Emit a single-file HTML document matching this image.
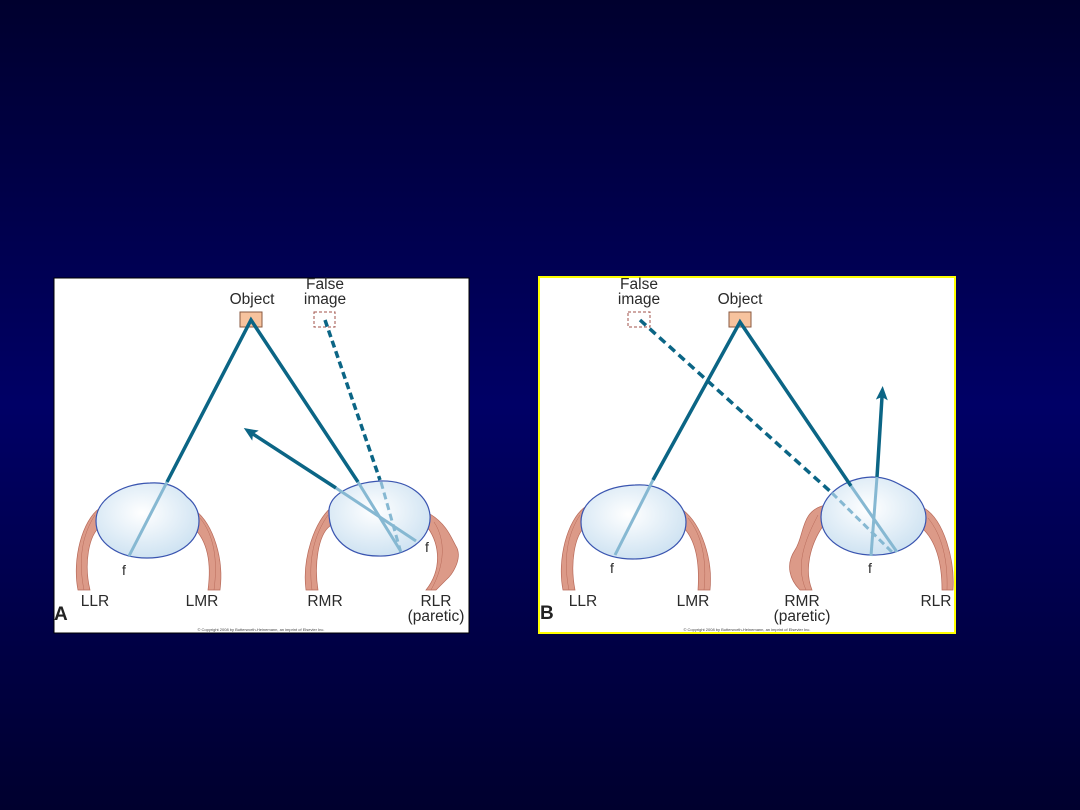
<!DOCTYPE html>
<html><head><style>
html,body{margin:0;padding:0;}
body{width:1080px;height:810px;overflow:hidden;background:linear-gradient(180deg,#00002e 0%,#00004a 25%,#000066 50%,#00004a 75%,#00002e 100%);font-family:"Liberation Sans",sans-serif;}
svg{position:absolute;left:0;top:0;}
</style></head><body>
<svg width="1080" height="810" viewBox="0 0 1080 810" font-family="Liberation Sans, sans-serif">
<defs>
<radialGradient id="eg" cx="0.45" cy="0.4" r="0.6">
<stop offset="0" stop-color="#ffffff"/><stop offset="1" stop-color="#cfe3f2"/>
</radialGradient>
<marker id="ah" markerWidth="14" markerHeight="12" refX="3" refY="6" orient="auto" markerUnits="userSpaceOnUse"><path d="M0,0 L14,6 L0,12 L3,6Z" fill="#0b6585"/></marker>
</defs>
<rect x="54" y="278" width="415" height="355" fill="#fff" stroke="#000" stroke-width="1"/>
<rect x="539" y="277" width="416" height="356" fill="#fff" stroke="#ffff00" stroke-width="2"/>

<g fill="#dc9a88" stroke="#b86a5a" stroke-width="0.7">
<path d="M100,508 C82,520 72,560 78,590 L90,590 C84,565 88,535 101,526 Z"/>
<path d="M195,510 C214,525 224,560 220,590 L208,590 C212,560 206,540 194,528 Z"/>
<path d="M333,506 C314,520 302,560 306,590 L318,590 C314,565 318,535 330,526 Z"/>
<path d="M430,514 C448,525 452,540 457,548 C462,560 452,575 446,580 L436,590 L426,590 C442,570 440,545 428,528 Z"/>
<path d="M585,507 C567,520 557,560 563,590 L575,590 C570,565 574,535 586,526 Z"/>
<path d="M683,510 C702,525 713,560 710,590 L698,590 C700,560 695,540 684,528 Z"/>
<path d="M826,505 C800,510 805,535 795,550 C785,565 790,580 800,590 L812,590 C804,570 810,545 823,526 Z"/>
<path d="M924,508 C944,520 955,560 953,590 L942,590 C942,560 935,540 922,528 Z"/>
</g>
<g fill="none" stroke="#b86a5a" stroke-width="0.5">
<path d="M95,515 C82,535 78,560 84,590"/><path d="M200,518 C214,535 218,560 214,590"/>
<path d="M328,515 C314,535 308,560 312,590"/><path d="M434,522 C446,540 445,565 431,590"/>
<path d="M580,515 C567,535 563,560 569,590"/><path d="M688,518 C702,535 707,560 704,590"/>
<path d="M818,515 C805,540 795,565 806,590"/><path d="M928,518 C942,535 948,560 947,590"/>
</g>
<g fill="url(#eg)" stroke="#3a55b0" stroke-width="1.2">
<path d="M96,521 C96,500 120,484 150,483 C165,482 178,486 187,497 C196,504 199,512 199,521 C199,543 176,558 147,558 C118,558 96,543 96,521Z"/>
<path d="M329,510 C330,495 350,483 380,481 C410,480 428,497 430,515 C432,540 405,557 378,556 C350,556 328,540 329,510Z"/>
<path d="M581,522 C581,500 605,486 635,485 C650,484 663,488 672,497 C682,505 686,513 686,522 C686,545 662,559 633,559 C604,559 581,545 581,522Z"/>
<path d="M821,517 C821,495 845,478 872,477 C890,477 900,485 910,490 C920,497 926,508 926,518 C926,540 900,556 873,555 C845,555 821,540 821,517Z"/>
</g>
<rect x="240" y="312" width="22" height="15" fill="#f7c39e" stroke="#8a5a40" stroke-width="1"/>
<rect x="314" y="312" width="21" height="15" fill="none" stroke="#a0524a" stroke-width="1" stroke-dasharray="3,2"/>
<rect x="729" y="312" width="22" height="15" fill="#f7c39e" stroke="#8a5a40" stroke-width="1"/>
<rect x="628" y="312" width="22" height="15" fill="none" stroke="#a0524a" stroke-width="1" stroke-dasharray="3,2"/>
<g stroke-linecap="butt" fill="none">
<polyline points="167,482 251,320 358,482" stroke="#0b6585" stroke-width="3.5"/>
<line x1="167" y1="482" x2="129" y2="556" stroke="#86b8d2" stroke-width="3"/>
<line x1="358" y1="482" x2="400" y2="550" stroke="#86b8d2" stroke-width="3"/>
<line x1="325" y1="320" x2="380" y2="480" stroke="#0b6585" stroke-width="3.5" stroke-dasharray="7,4"/>
<line x1="381" y1="482" x2="401" y2="553" stroke="#86b8d2" stroke-width="3" stroke-dasharray="7,4"/>
<line x1="336" y1="488" x2="253" y2="434" stroke="#0b6585" stroke-width="3.5" marker-end="url(#ah)"/>
<line x1="336" y1="488" x2="416" y2="541" stroke="#86b8d2" stroke-width="3"/>
<polyline points="653,480 740,322 851,486" stroke="#0b6585" stroke-width="3.5"/>
<line x1="653" y1="480" x2="615" y2="555" stroke="#86b8d2" stroke-width="3"/>
<line x1="851" y1="486" x2="897" y2="552" stroke="#86b8d2" stroke-width="3"/>
<line x1="640" y1="320" x2="832" y2="493" stroke="#0b6585" stroke-width="3.5" stroke-dasharray="8,5"/>
<line x1="832" y1="493" x2="893" y2="553" stroke="#86b8d2" stroke-width="3" stroke-dasharray="7,4"/>
<line x1="877" y1="477" x2="882" y2="397" stroke="#0b6585" stroke-width="3.5" marker-end="url(#ah)"/>
<line x1="877" y1="477" x2="871" y2="556" stroke="#86b8d2" stroke-width="3"/>
</g>
<g fill="#2a2a2a" font-size="15.5" text-anchor="middle">
<text x="252" y="304">Object</text>
<text x="325" y="289">False</text>
<text x="325" y="304">image</text>
<text x="95" y="606">LLR</text>
<text x="202" y="606">LMR</text>
<text x="325" y="606">RMR</text>
<text x="436" y="606">RLR</text>
<text x="436" y="621">(paretic)</text>
<text x="124" y="575" font-size="14">f</text>
<text x="427" y="552" font-size="14">f</text>
<text x="740" y="304">Object</text>
<text x="639" y="289">False</text>
<text x="639" y="304">image</text>
<text x="583" y="606">LLR</text>
<text x="693" y="606">LMR</text>
<text x="802" y="606">RMR</text>
<text x="802" y="621">(paretic)</text>
<text x="936" y="606">RLR</text>
<text x="612" y="573" font-size="14">f</text>
<text x="870" y="573" font-size="14">f</text>
</g>
<text x="54" y="620" font-size="19" font-weight="bold" fill="#222">A</text>
<text x="540" y="619" font-size="19" font-weight="bold" fill="#222">B</text>
<text x="261" y="631" font-size="4" fill="#444" text-anchor="middle">© Copyright 2008 by Butterworth-Heinemann, an imprint of Elsevier Inc.</text>
<text x="747" y="631" font-size="4" fill="#444" text-anchor="middle">© Copyright 2008 by Butterworth-Heinemann, an imprint of Elsevier Inc.</text>
</svg>
</body></html>
